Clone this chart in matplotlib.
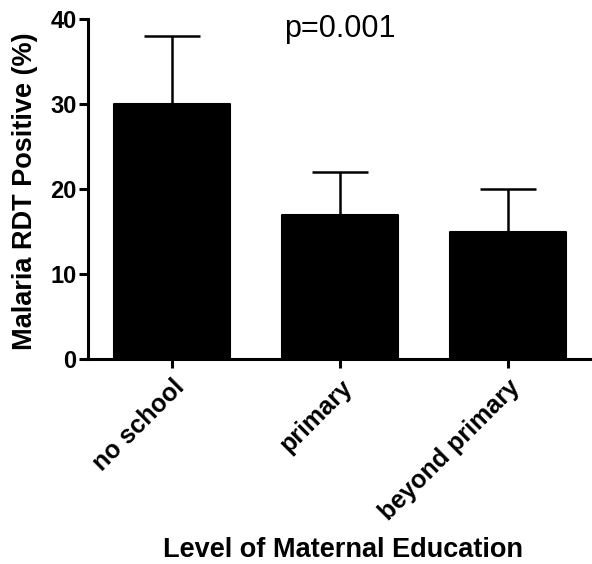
import matplotlib
matplotlib.use("Agg")
import matplotlib.pyplot as plt
import numpy as np

categories = ["no school", "primary", "beyond primary"]
values = [30, 17, 15]
errors = [8, 5, 5]
y_ticks = [0, 10, 20, 30, 40]

plt.rcParams['font.family'] = ['Liberation Sans', 'DejaVu Sans']

fig = plt.figure(figsize=(5.92, 5.64), dpi=100)
ax = fig.add_axes([0.149, 0.3635, 0.851, 0.6025])

x = np.arange(len(categories))
ax.bar(x, values, width=0.69, color='black', edgecolor='black', linewidth=1.5,
       joinstyle='round')
ax.errorbar(x, values, yerr=[np.zeros(len(errors)), errors], fmt='none',
            ecolor='black', elinewidth=1.8, capsize=20, capthick=1.8)

ax.set_xlim(-0.5, 2.5)
ax.set_ylim(0, 40)
ax.set_yticks(y_ticks)
ax.set_xticks(x)
ax.set_xticklabels(categories, rotation=45, ha='right', rotation_mode='anchor',
                   fontsize=18, fontweight='bold')
for lab in ax.get_yticklabels():
    lab.set_fontsize(17)
    lab.set_fontweight('bold')

for s in ['top', 'right']:
    ax.spines[s].set_visible(False)
for s in ['left', 'bottom']:
    ax.spines[s].set_linewidth(2.2)
ax.tick_params(axis='both', width=2.2, length=6.5, direction='out', pad=2)
ax.tick_params(axis='x', pad=5)

ax.set_ylabel("Malaria RDT Positive (%)", fontsize=19.5, fontweight='bold', va='center')
ax.yaxis.set_label_coords(-0.125, 0.494)
ax.set_xlabel("Level of Maternal Education", fontsize=19.5, fontweight='bold')
ax.xaxis.set_label_coords(0.506, -0.525)

ax.text(1.0, 38.9, "p=0.001", ha='center', va='center', fontsize=22)

fig.savefig("out.png", dpi=100)
